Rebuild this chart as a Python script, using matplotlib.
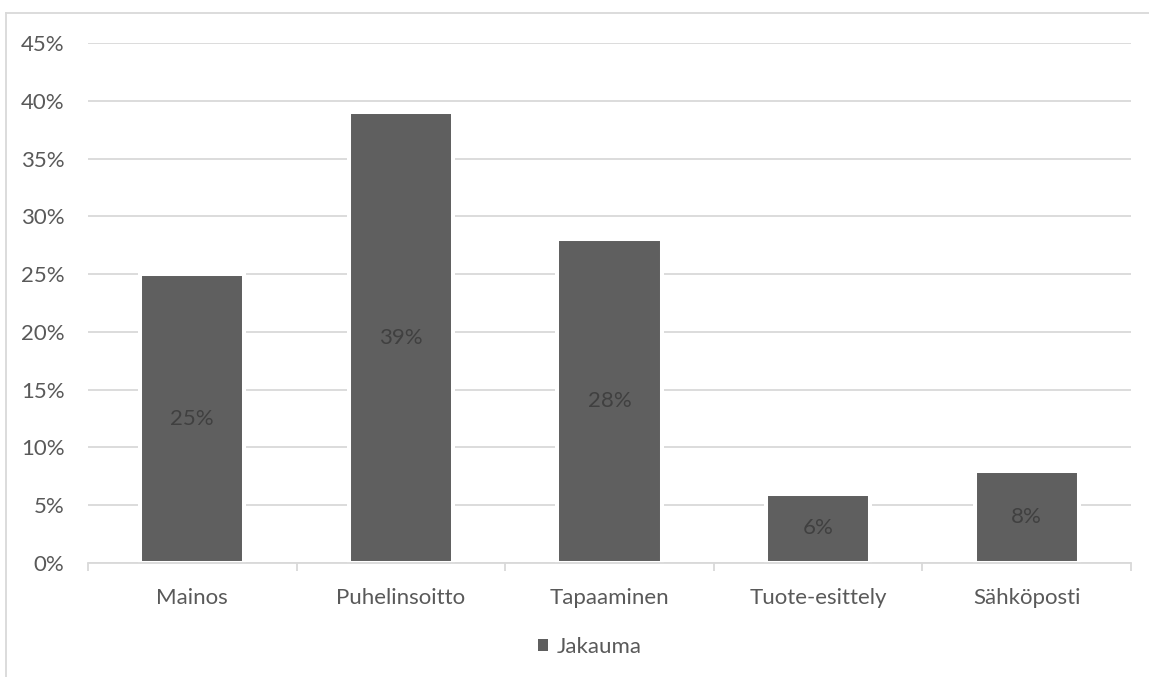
import matplotlib
matplotlib.use("Agg")
import matplotlib.pyplot as plt
from matplotlib.patches import Patch
from matplotlib.lines import Line2D
from matplotlib.ticker import FixedLocator, FuncFormatter

# Data
categories = ["Mainos", "Puhelinsoitto", "Tapaaminen", "Tuote-esittely", "Sähköposti"]
shares = [25, 39, 28, 6, 8]   # percent
yticks = [0, 5, 10, 15, 20, 25, 30, 35, 40, 45]

bar_color = "#5f5f5f"
grid_color = "#d9d9d9"
text_color = "#595959"
label_color = "#404040"

plt.rcParams["font.family"] = ["Lato", "DejaVu Sans"]

fig = plt.figure(figsize=(11.49, 6.77), dpi=100)
ax = fig.add_axes([88 / 1149, 1 - 563 / 677, (1131 - 88) / 1149, (563 - 43) / 677])

x = list(range(len(categories)))
bars = ax.bar(x, shares, width=0.5, color=bar_color, edgecolor="white",
              linewidth=2.9, zorder=2)

# data labels in the middle of each bar
for rect, v in zip(bars, shares):
    ax.text(rect.get_x() + rect.get_width() / 2, v / 2, f"{round(v)}%",
            ha="center", va="center", fontsize=16, color=label_color, zorder=3)

ax.set_xlim(-0.5, len(categories) - 0.5)
ax.set_ylim(0, 45)
ax.yaxis.set_major_locator(FixedLocator(yticks))
ax.yaxis.set_major_formatter(FuncFormatter(lambda v, p: f"{v:.0f}%"))
ax.grid(axis="y", color=grid_color, linewidth=1.3, zorder=0)
ax.set_axisbelow(True)

ax.set_xticks(x)
ax.set_xticklabels(categories)
ax.xaxis.set_minor_locator(FixedLocator([i - 0.5 for i in range(len(categories) + 1)]))
ax.tick_params(axis="x", which="major", length=0, pad=18, labelsize=16, labelcolor=text_color)
ax.tick_params(axis="x", which="minor", length=6, width=1.3, color=grid_color)
ax.tick_params(axis="y", length=0, pad=17, labelsize=16, labelcolor=text_color)

for s in ["top", "right", "left"]:
    ax.spines[s].set_visible(False)
ax.spines["bottom"].set_color(grid_color)
ax.spines["bottom"].set_linewidth(1.3)

# legend at the bottom
handle = Patch(facecolor=bar_color, edgecolor="none", label="Jakauma")
fig.legend(handles=[handle], loc="center", bbox_to_anchor=(590 / 1149, 1 - 647 / 677),
           frameon=False, fontsize=16, labelcolor=text_color,
           handlelength=0.45, handleheight=0.45, handletextpad=0.4)

# chart area border (left and top edges visible)
fig.add_artist(Line2D([6 / 1149, 6 / 1149], [0, 1 - 13 / 677], color=grid_color, linewidth=1.3))
fig.add_artist(Line2D([6 / 1149, 1], [1 - 13 / 677, 1 - 13 / 677], color=grid_color, linewidth=1.3))

fig.savefig("out.png", dpi=100, facecolor="white")
